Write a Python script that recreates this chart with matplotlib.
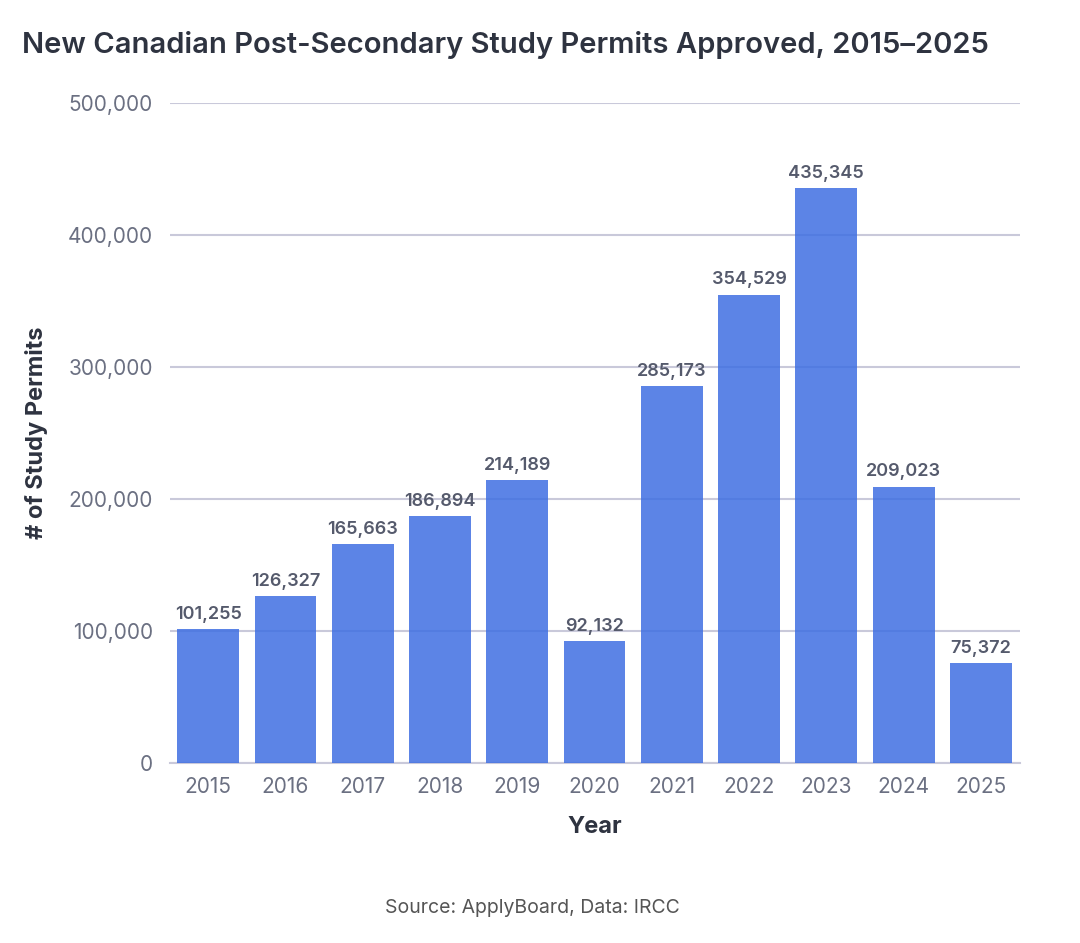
import matplotlib
matplotlib.use("Agg")
import matplotlib.pyplot as plt
from matplotlib.ticker import FuncFormatter

years = ["2015", "2016", "2017", "2018", "2019", "2020", "2021", "2022", "2023", "2024", "2025"]
permits = [101255, 126327, 165663, 186894, 214189, 92132, 285173, 354529, 435345, 209023, 75372]
yticks = [0, 100000, 200000, 300000, 400000, 500000]

plt.rcParams['font.family'] = ['Inter', 'DejaVu Sans']

fig = plt.figure(figsize=(10.8, 9.43), dpi=100)
ax = fig.add_axes([0.157, 0.191, 0.787, 0.700])

x = list(range(len(years)))
ax.bar(x, permits, width=0.8, color="#3f6fe2", alpha=0.85, zorder=3)

for xi, v in zip(x, permits):
    ax.text(xi, v + 5000, f"{v:,}", ha="center", va="bottom", fontsize=13,
            fontweight="semibold", color="#555a6c", zorder=4)

ax.set_xlim(-0.5, len(years) - 0.5)
ax.set_ylim(0, 500000)
ax.set_yticks(yticks)
ax.yaxis.set_major_formatter(FuncFormatter(lambda v, p: f"{int(v):,}"))
ax.set_xticks(x)
ax.set_xticklabels(years)
ax.grid(axis="y", color="#c9c9da", linewidth=1.5, zorder=0)
for s in ["top", "right", "left"]:
    ax.spines[s].set_visible(False)
ax.spines["bottom"].set_color("#c9c9da")
ax.spines["bottom"].set_linewidth(1.5)
ax.tick_params(axis="both", length=0, labelsize=15, labelcolor="#6b7082")
ax.tick_params(axis="y", pad=12)
ax.tick_params(axis="x", pad=10)

ax.set_xlabel("Year", fontsize=17, fontweight="bold", color="#2e3340", labelpad=14)
ax.set_ylabel("# of Study Permits", fontsize=17, fontweight="bold", color="#2e3340", labelpad=14)

fig.text(0.02, 0.952, "New Canadian Post-Secondary Study Permits Approved, 2015\u20132025",
         fontsize=21, fontweight="semibold", color="#2e3340", ha="left", va="center")
fig.text(0.493, 0.037, "Source: ApplyBoard, Data: IRCC", fontsize=14, color="#555555",
         ha="center", va="center")

fig.savefig("out.png", dpi=100, facecolor="white")
